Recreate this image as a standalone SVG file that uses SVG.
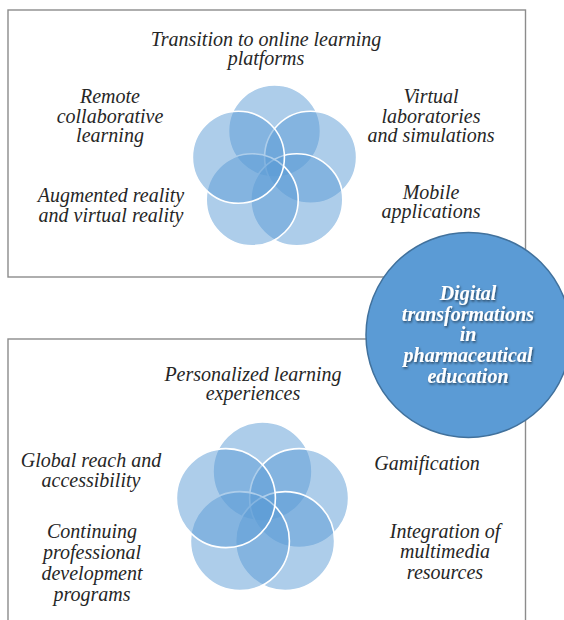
<svg xmlns="http://www.w3.org/2000/svg" width="564" height="620" viewBox="0 0 564 620">
  <style>
    .frame { fill: #ffffff; stroke: #8c8c8c; stroke-width: 1.4; }
    .petal { fill: #5b9bd5; fill-opacity: 0.5; stroke: #ffffff; stroke-width: 1.6; }
    .label { font-family: "Liberation Serif", "Times New Roman", serif; font-style: italic; font-size: 20px; fill: #262626; text-anchor: middle; }
    .hub-disc { fill: #5b9bd5; stroke: #41719c; stroke-width: 1.5; }
    .hub-text { font-family: "Liberation Serif", "Times New Roman", serif; font-style: italic; font-weight: bold; font-size: 20px; fill: #ffffff; text-anchor: middle; }
  </style>
  <defs>
    <filter id="txtShadow" x="-10%" y="-20%" width="120%" height="150%">
      <feDropShadow dx="1" dy="1.5" stdDeviation="0.8" flood-color="#000000" flood-opacity="0.55"/>
    </filter>
  </defs>

  <!-- Upper panel: current trends -->
  <g id="panel-top">
    <rect class="frame" x="8" y="10" width="517.5" height="267"/>
    <g id="venn-top">
      <circle class="petal" cx="274.5" cy="131" r="46"/>
      <circle class="petal" cx="310.6" cy="157.3" r="46"/>
      <circle class="petal" cx="296.8" cy="199.7" r="46"/>
      <circle class="petal" cx="252.2" cy="199.7" r="46"/>
      <circle class="petal" cx="238.4" cy="157.3" r="46"/>
    </g>
    <g id="t-online">
      <text class="label" x="266" y="45.5">Transition to online learning</text>
      <text class="label" x="266" y="65">platforms</text>
    </g>
    <g id="t-remote">
      <text class="label" x="110" y="103">Remote</text>
      <text class="label" x="110" y="122.5">collaborative</text>
      <text class="label" x="110" y="142">learning</text>
    </g>
    <g id="t-virtual-labs">
      <text class="label" x="431" y="103">Virtual</text>
      <text class="label" x="431" y="122.5">laboratories</text>
      <text class="label" x="431" y="142">and simulations</text>
    </g>
    <g id="t-ar-vr">
      <text class="label" x="111" y="202">Augmented reality</text>
      <text class="label" x="111" y="222">and virtual reality</text>
    </g>
    <g id="t-mobile">
      <text class="label" x="431" y="198.5">Mobile</text>
      <text class="label" x="431" y="218">applications</text>
    </g>
  </g>

  <!-- Lower panel: further directions -->
  <g id="panel-bottom">
    <rect class="frame" x="8" y="339" width="517.5" height="300"/>
    <g id="venn-bottom">
      <circle class="petal" cx="262.5" cy="471.5" r="49.5"/>
      <circle class="petal" cx="299.1" cy="498.1" r="49.5"/>
      <circle class="petal" cx="285.1" cy="541.1" r="49.5"/>
      <circle class="petal" cx="239.9" cy="541.1" r="49.5"/>
      <circle class="petal" cx="225.9" cy="498.1" r="49.5"/>
    </g>
    <g id="t-personalized">
      <text class="label" x="253" y="380.5">Personalized learning</text>
      <text class="label" x="253" y="400">experiences</text>
    </g>
    <g id="t-global">
      <text class="label" x="91" y="467">Global reach and</text>
      <text class="label" x="91" y="486.5">accessibility</text>
    </g>
    <g id="t-gamification">
      <text class="label" x="427" y="470">Gamification</text>
    </g>
    <g id="t-continuing">
      <text class="label" x="92" y="538">Continuing</text>
      <text class="label" x="92" y="559">professional</text>
      <text class="label" x="92" y="580">development</text>
      <text class="label" x="92" y="601">programs</text>
    </g>
    <g id="t-multimedia">
      <text class="label" x="445" y="538">Integration of</text>
      <text class="label" x="445" y="558">multimedia</text>
      <text class="label" x="445" y="579">resources</text>
    </g>
  </g>

  <!-- Central hub -->
  <g id="hub">
    <circle class="hub-disc" cx="468.5" cy="335" r="102.5"/>
    <g filter="url(#txtShadow)">
      <text class="hub-text" x="468" y="300">Digital</text>
      <text class="hub-text" x="468" y="320.7">transformations</text>
      <text class="hub-text" x="468" y="341.3">in</text>
      <text class="hub-text" x="468" y="362">pharmaceutical</text>
      <text class="hub-text" x="468" y="382.7">education</text>
    </g>
  </g>

  <g id="connectors"/>
</svg>
